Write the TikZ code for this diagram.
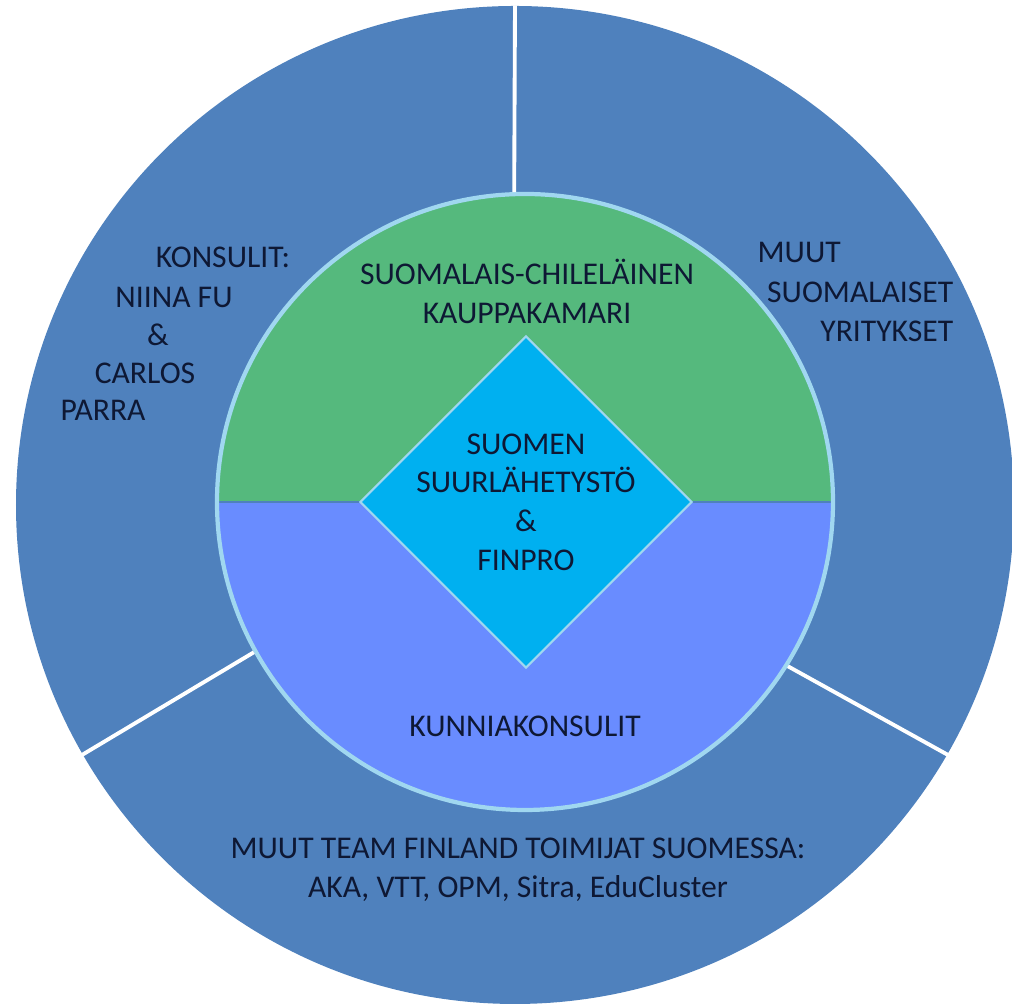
\documentclass[tikz,border=0pt]{standalone}
\usepackage{fontspec}
\setmainfont{Carlito}
\usetikzlibrary{shapes.geometric}

\definecolor{outerblue}{RGB}{79,129,189}
\definecolor{chambergreen}{RGB}{85,185,125}
\definecolor{lowerblue}{RGB}{105,140,255}
\definecolor{diamondblue}{RGB}{0,176,240}
\definecolor{rimblue}{RGB}{160,215,240}
\definecolor{textnavy}{RGB}{14,24,52}

\begin{document}
\begin{tikzpicture}[
    lbl/.style={text=textnavy, font=\fontsize{9}{11}\selectfont, inner sep=0pt},
    spoke/.style={white, line width=1.1pt}]

    \useasboundingbox (0,0) rectangle (10.12,10.05);

    \node[circle, fill=outerblue, minimum size=9.98cm, inner sep=0pt] (outer) at (5.15,5.00) {};

    \fill[chambergreen] (2.17,5.03) arc (180:0:3.08) -- cycle;
    \fill[lowerblue] (2.17,5.03) arc (180:360:3.08) -- cycle;
    \draw[outerblue, line width=0.5pt] (2.17,5.03) -- (8.33,5.03);
    \node[circle, draw=rimblue, line width=1.2pt, minimum size=6.16cm, inner sep=0pt] (inner) at (5.25,5.03) {};

    \draw[spoke] (outer.90.5) -- (inner.92.5);
    \draw[spoke] (outer.210) -- (inner.209.3);
    \draw[spoke] (outer.330.3) -- (inner.328.6);

    \node[diamond, fill=diamondblue, draw=rimblue, line width=0.6pt, minimum size=3.32cm, inner sep=0pt] (embassy) at (5.26,5.03) {};

    \node[lbl] (kons) at (2.23,7.48) {KONSULIT:};
    \node[lbl] (niina) at (1.74,7.08) {NIINA FU};
    \node[lbl] (konsamp) at (1.58,6.70) {\&};
    \node[lbl] (carlos) at (1.45,6.32) {CARLOS};
    \node[lbl] (parra) at (1.03,5.95) {PARRA};

    \node[lbl, anchor=west] (muut) at (7.57,7.53) {MUUT};
    \node[lbl, anchor=east] (suom) at (9.54,7.13) {SUOMALAISET};
    \node[lbl, anchor=east] (yrit) at (9.54,6.74) {YRITYKSET};

    \node[lbl, align=center] (chamber) at (5.27,7.135) {SUOMALAIS-CHILELÄINEN\\KAUPPAKAMARI};
    \node[lbl, align=center] (finpro) at (embassy.center) {SUOMEN\\SUURLÄHETYSTÖ\\\&\\FINPRO};
    \node[lbl] (honorary) at (5.25,2.79) {KUNNIAKONSULIT};
    \node[lbl, align=center] (teamfi) at (5.18,1.355) {MUUT TEAM FINLAND TOIMIJAT SUOMESSA:\\AKA, VTT, OPM, Sitra, EduCluster};
\end{tikzpicture}
\end{document}
